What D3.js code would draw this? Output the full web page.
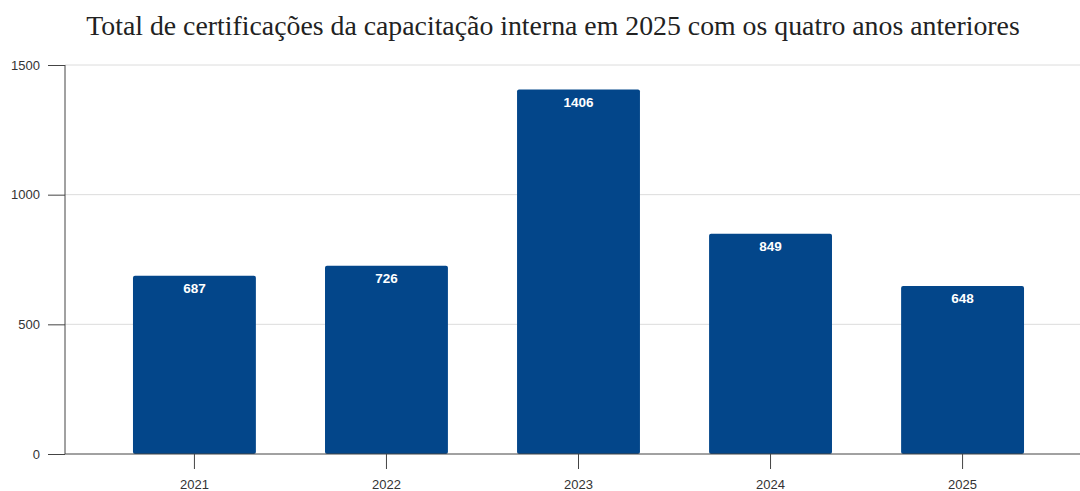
<!DOCTYPE html>
<html>
<head>
<meta charset="utf-8">
<script src="https://cdn.jsdelivr.net/npm/d3@7"></script>
<style>
  html, body { margin: 0; padding: 0; background: #fff; }
  svg { display: block; }
</style>
</head>
<body>
<svg id="chart" width="1080" height="491"></svg>
<script>
// Certifications per year
const years = ["2021", "2022", "2023", "2024", "2025"];
const totals = [687, 726, 1406, 849, 648];
const yTicks = [0, 500, 1000, 1500];
const titleText = "Total de certificações da capacitação interna em 2025 com os quatro anos anteriores";

const width = 1080, height = 491;
const margin = { top: 65, left: 65, bottom: 37 };
const plotBottom = height - margin.bottom;

const svg = d3.select("#chart");

const x = d3.scaleBand()
  .domain(years)
  .range([margin.left, 1092])
  .paddingInner(0.36)
  .paddingOuter(0.354);

const y = d3.scaleLinear()
  .domain([0, 1500])
  .range([plotBottom, margin.top]);

// Title
svg.append("text")
  .attr("x", 553)
  .attr("y", 35)
  .attr("text-anchor", "middle")
  .attr("font-family", "'Liberation Serif', 'Times New Roman', serif")
  .attr("font-size", 27.8)
  .attr("fill", "#222")
  .text(titleText);

// Horizontal gridlines
svg.append("g")
  .selectAll("line")
  .data(yTicks.filter(d => d > 0))
  .join("line")
  .attr("x1", margin.left)
  .attr("x2", width)
  .attr("y1", d => y(d))
  .attr("y2", d => y(d))
  .attr("stroke", "#dcdcdc")
  .attr("stroke-width", 1);

// Bars
svg.append("g")
  .selectAll("rect")
  .data(years.map((yr, i) => ({ yr, v: totals[i] })))
  .join("rect")
  .attr("x", d => x(d.yr))
  .attr("y", d => y(d.v))
  .attr("width", x.bandwidth())
  .attr("height", d => plotBottom - y(d.v))
  .attr("rx", 2)
  .attr("fill", "#03468a");

// Value labels inside bars
svg.append("g")
  .selectAll("text")
  .data(years.map((yr, i) => ({ yr, v: totals[i] })))
  .join("text")
  .attr("x", d => x(d.yr) + x.bandwidth() / 2)
  .attr("y", d => y(d.v) + 17.5)
  .attr("text-anchor", "middle")
  .attr("font-family", "'Liberation Sans', Arial, sans-serif")
  .attr("font-size", 13.5)
  .attr("font-weight", "bold")
  .attr("fill", "#fff")
  .text(d => d.v);

// Y axis
const yAxis = svg.append("g")
  .attr("transform", `translate(${margin.left},0)`)
  .call(d3.axisLeft(y).tickValues(yTicks).tickSize(17).tickPadding(8).tickFormat(d3.format("d")));
yAxis.select(".domain").attr("stroke", "#444").attr("d", `M0,${y(1500)}V${plotBottom}`);
yAxis.selectAll(".tick line").attr("stroke", "#444");
yAxis.selectAll("text")
  .attr("font-family", "'Liberation Sans', Arial, sans-serif")
  .attr("font-size", 13)
  .attr("fill", "#333");

// X axis
const xAxis = svg.append("g")
  .attr("transform", `translate(0,${plotBottom})`)
  .call(d3.axisBottom(x).tickSize(15).tickPadding(11));
xAxis.select(".domain").attr("stroke", "#444").attr("d", `M${margin.left},0H${width}`);
xAxis.selectAll(".tick line").attr("stroke", "#444");
xAxis.selectAll("text")
  .attr("font-family", "'Liberation Sans', Arial, sans-serif")
  .attr("font-size", 13)
  .attr("fill", "#333");
</script>
</body>
</html>
